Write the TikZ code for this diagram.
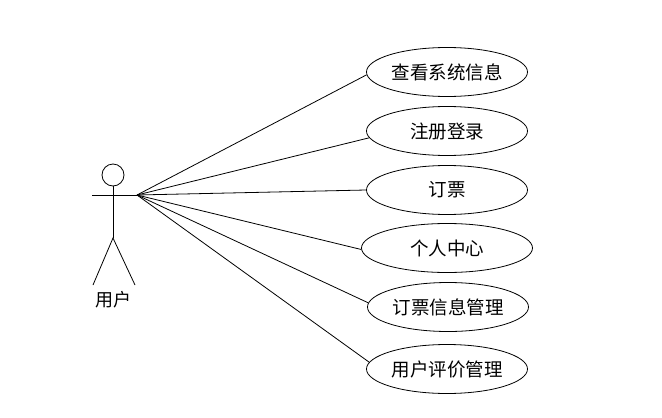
\documentclass[tikz,border=0pt]{standalone}
\usepackage{fontspec}
\newfontfamily\cjk{Noto Sans CJK SC}
\usetikzlibrary{shapes.geometric}
\begin{document}
\begin{tikzpicture}[x=1pt,y=-1pt,line width=0.8pt,
  usecase/.style={draw,ellipse,minimum width=#1,minimum height=49pt,inner sep=0pt,font=\cjk\fontsize{18.5}{20}\selectfont},
  usecase/.default=161pt,
  lbl/.style={font=\cjk\fontsize{18}{20}\selectfont}]
\useasboundingbox (0,0) rectangle (662,418);
% actor
\node[draw,circle,minimum size=22pt,inner sep=0pt] (head) at (113,175) {};
\coordinate (hub) at (137,195);
\coordinate (armL) at (92,195);
\coordinate (hip) at (113,238);
\coordinate (footL) at (93,285);
\coordinate (footR) at (135,285);
\draw (armL) -- (hub);
\draw (head.south) -- (hip);
\draw (footL) -- (hip) -- (footR);
\node[lbl] (actor) at (113,300) {用户};
% use cases
\node[usecase] (u1) at (447,72) {查看系统信息};
\node[usecase] (u2) at (447,131) {注册登录};
\node[usecase] (u3) at (447,190) {订票};
\node[usecase=171pt] (u4) at (447,248) {个人中心};
\node[usecase] (u5) at (448,307) {订票信息管理};
\node[usecase] (u6) at (447,369) {用户评价管理};
\draw (hub) -- (u1.182);
\draw (hub) -- (u2.185);
\draw (hub) -- (u3.west);
\draw (hub) -- (u4.181);
\draw (hub) -- (u5.177);
\draw (hub) -- (u6.175);
\end{tikzpicture}
\end{document}
